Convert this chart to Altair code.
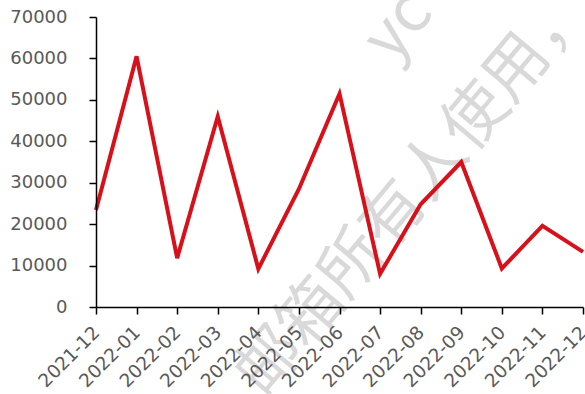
import altair as alt
import pandas as pd

# Monthly series
months = [
    "2021-12", "2022-01", "2022-02", "2022-03", "2022-04", "2022-05", "2022-06",
    "2022-07", "2022-08", "2022-09", "2022-10", "2022-11", "2022-12",
]
values = [23400, 60500, 11800, 46000, 9200, 28500, 51500, 8000, 24800, 35000, 9300, 19600, 13300]

# Y axis ticks
y_ticks = [0, 10000, 20000, 30000, 40000, 50000, 60000, 70000]

# Background watermark strings
wm_main = ["邮箱所有人使用，"]
wm_side = ["yc"]

df = pd.DataFrame({"month": months, "value": values})

LABEL_GRAY = "#595959"
AXIS_FONT = "DejaVu Sans"

wm_style = dict(
    font="Noto Sans CJK SC",
    fontSize=64,
    color="#d9d9d9",
    angle=310,
    align="center",
    baseline="middle",
)

watermark = alt.Chart(pd.DataFrame({"t": wm_main})).mark_text(**wm_style).encode(
    text="t:N", x=alt.value(319), y=alt.value(174)
)
watermark2 = alt.Chart(pd.DataFrame({"t": wm_side})).mark_text(**wm_style).encode(
    text="t:N", x=alt.value(303), y=alt.value(10)
)

line = alt.Chart(df).mark_line(color="#D7101A", strokeWidth=4, strokeJoin="miter").encode(
    x=alt.X(
        "month:N",
        sort=months,
        scale=alt.Scale(type="point", padding=0),
        axis=alt.Axis(
            title=None,
            labelAngle=-45,
            labelAlign="right",
            labelBaseline="middle",
            labelPadding=15,
            tickSize=7,
            labelOverlap=False,
            labelFont=AXIS_FONT,
            labelFontSize=18.5,
            labelColor=LABEL_GRAY,
            domainColor="#000000",
            tickColor="#000000",
            domainWidth=1.5,
            tickWidth=1.5,
            grid=False,
            zindex=1,
        ),
    ),
    y=alt.Y(
        "value:Q",
        scale=alt.Scale(domain=[0, 70000], nice=False),
        axis=alt.Axis(
            title=None,
            values=y_ticks,
            format="d",
            tickSize=7,
            labelPadding=22,
            labelFont=AXIS_FONT,
            labelFontSize=18,
            labelColor=LABEL_GRAY,
            domainColor="#000000",
            tickColor="#000000",
            domainWidth=1.5,
            tickWidth=1.5,
            grid=False,
            zindex=1,
        ),
    ),
)

chart = (
    alt.layer(watermark, watermark2, line)
    .properties(
        width=487,
        height=290,
        autosize=alt.AutoSizeParams(type="none"),
        padding={"left": 96, "top": 17, "right": 2, "bottom": 87},
        background="white",
    )
    .configure_view(stroke=None)
)

chart.save("out.html", embed_options={"renderer": "svg", "actions": False})
